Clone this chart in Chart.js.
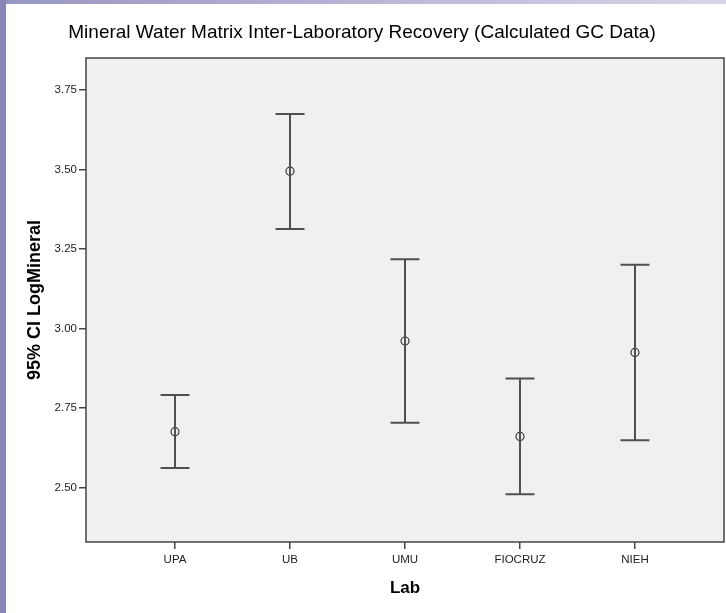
<!DOCTYPE html>
<html>
<head>
<meta charset="utf-8">
<title>Mineral Water Matrix Inter-Laboratory Recovery</title>
<script src="https://cdn.jsdelivr.net/npm/chart.js@4/dist/chart.umd.min.js"></script>
<style>
  html, body { margin: 0; padding: 0; background: #fff; }
  canvas { display: block; }
</style>
</head>
<body>
<canvas id="chart" width="726" height="613"></canvas>
<script>
// values
const labs = ['UPA', 'UB', 'UMU', 'FIOCRUZ', 'NIEH']
const means = [2.676, 3.495, 2.961, 2.661, 2.925]
const lower = [2.562, 3.313, 2.704, 2.479, 2.649]
const upper = [2.791, 3.675, 3.218, 2.843, 3.201]
const yTicks = [2.50, 2.75, 3.00, 3.25, 3.50, 3.75]

const capHalf = 0.126

// whiskers + caps as one broken line
const whiskers = []
labs.forEach((lab, i) => {
  whiskers.push({ x: i, y: lower[i] }, { x: i, y: upper[i] }, { x: i, y: null })
  whiskers.push({ x: i - capHalf, y: upper[i] }, { x: i + capHalf, y: upper[i] }, { x: i, y: null })
  whiskers.push({ x: i - capHalf, y: lower[i] }, { x: i + capHalf, y: lower[i] }, { x: i, y: null })
})

// page background, purple frame strips and the grey plot panel
const backdrop = {
  id: 'backdrop',
  beforeDraw(chart) {
    const ctx = chart.ctx
    const a = chart.chartArea
    ctx.save()
    ctx.fillStyle = '#ffffff'
    ctx.fillRect(0, 0, chart.width, chart.height)
    const g = ctx.createLinearGradient(0, 0, chart.width, 0)
    g.addColorStop(0, '#9896c4')
    g.addColorStop(1, '#d6d5e8')
    ctx.fillStyle = g
    ctx.fillRect(0, 0, chart.width, 4)
    ctx.fillStyle = '#8a87b8'
    ctx.fillRect(0, 0, 6, chart.height)
    ctx.fillStyle = '#f0f0f0'
    ctx.fillRect(a.left, a.top, a.right - a.left, a.bottom - a.top)
    ctx.restore()
  },
  afterDraw(chart) {
    const ctx = chart.ctx
    const a = chart.chartArea
    ctx.save()
    ctx.strokeStyle = '#444'
    ctx.lineWidth = 1.5
    ctx.strokeRect(a.left, a.top, a.right - a.left, a.bottom - a.top)
    ctx.restore()
  }
}

new Chart(document.getElementById('chart'), {
  type: 'scatter',
  data: {
    datasets: [
      {
        label: 'CI',
        data: whiskers,
        showLine: true,
        spanGaps: false,
        borderColor: '#505050',
        borderWidth: 2,
        pointRadius: 0,
        fill: false
      },
      {
        label: 'Mean',
        data: means.map((m, i) => ({ x: i, y: m })),
        pointStyle: 'circle',
        pointRadius: 4,
        borderWidth: 1.2,
        borderColor: '#333',
        backgroundColor: '#f0f0f0'
      }
    ]
  },
  plugins: [backdrop],
  options: {
    responsive: false,
    devicePixelRatio: 1,
    animation: false,
    layout: {
      autoPadding: false,
      padding: { top: 0, right: 2, bottom: 0, left: 0 }
    },
    plugins: {
      legend: { display: false },
      tooltip: { enabled: false },
      title: {
        display: true,
        text: 'Mineral Water Matrix Inter-Laboratory Recovery (Calculated GC Data)',
        color: '#000',
        font: { family: 'Liberation Sans, Arial', size: 19, weight: 'normal', lineHeight: 1.2 },
        padding: { top: 21.6, bottom: 13.6 }
      }
    },
    scales: {
      x: {
        type: 'linear',
        min: -0.774,
        max: 4.774,
        afterBuildTicks: function(scale) {
          scale.ticks = labs.map((l, i) => ({ value: i }))
        },
        afterFit: function(scale) {
          scale.height = 71
        },
        ticks: {
          color: '#222',
          font: { family: 'Liberation Sans, Arial', size: 11.5 },
          padding: 4,
          maxRotation: 0,
          callback: function(value) {
            return labs[value]
          }
        },
        grid: {
          drawOnChartArea: false,
          drawTicks: true,
          tickLength: 7,
          color: '#444',
          lineWidth: 1.5
        },
        border: { display: false },
        title: {
          display: true,
          text: 'Lab',
          color: '#000',
          font: { family: 'Liberation Sans, Arial', size: 17, weight: 'bold', lineHeight: 1.2 },
          padding: { top: 0, bottom: 14.8 }
        }
      },
      y: {
        min: 2.329,
        max: 3.851,
        afterBuildTicks: function(scale) {
          scale.ticks = yTicks.map(v => ({ value: v }))
        },
        afterFit: function(scale) {
          scale.width = 86
        },
        ticks: {
          color: '#222',
          font: { family: 'Liberation Sans, Arial', size: 11.5 },
          padding: 2,
          callback: function(value) {
            return value.toFixed(2)
          }
        },
        grid: {
          drawOnChartArea: false,
          drawTicks: true,
          tickLength: 7,
          color: '#444',
          lineWidth: 1.5
        },
        border: { display: false },
        title: {
          display: true,
          text: '95% CI LogMineral',
          color: '#000',
          font: { family: 'Liberation Sans, Arial', size: 18, weight: 'bold', lineHeight: 1.2 },
          padding: { top: 24.2, bottom: 0 }
        }
      }
    }
  }
})
</script>
</body>
</html>
